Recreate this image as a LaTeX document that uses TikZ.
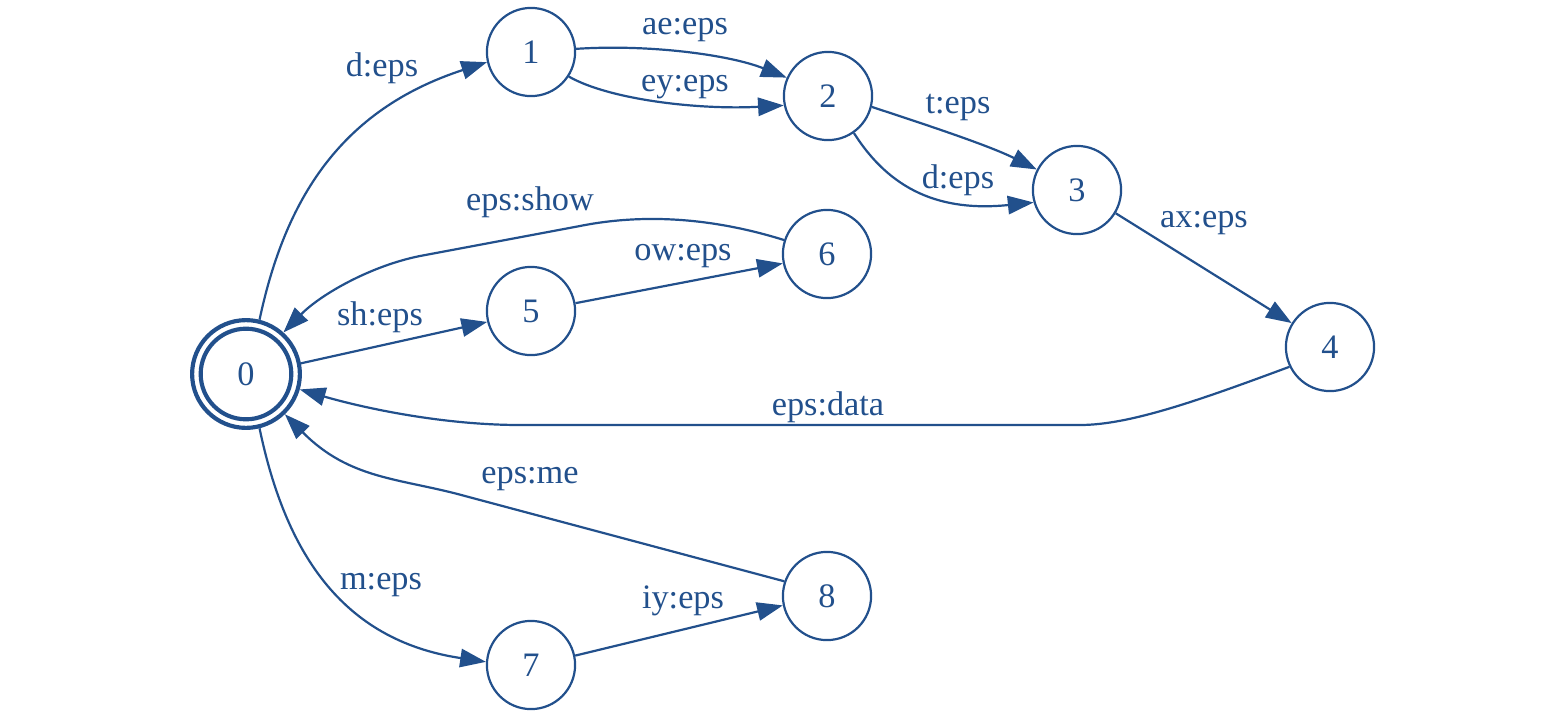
\documentclass[tikz,border=0pt]{standalone}
\usepackage{fontspec}
\setmainfont{Liberation Serif}
\usetikzlibrary{arrows.meta}
\definecolor{fstblue}{HTML}{22508C}
\begin{document}
\begin{tikzpicture}[x=0.4083pt,y=-0.4083pt,
  every node/.style={text=fstblue,font=\fontsize{14pt}{16pt}\selectfont},
  state/.style={circle,draw=fstblue,line width=0.9pt,minimum size=36pt,inner sep=0pt},
  final/.style={circle,draw=fstblue,line width=1.7pt,minimum size=44pt,inner sep=0pt},
  finalin/.style={circle,draw=fstblue,line width=1.7pt,minimum size=37pt,inner sep=0pt},
  arc/.style={draw=fstblue,line width=0.9pt,-{Triangle[length=10.5pt,width=7.5pt]}},
  lbl/.style={inner sep=0pt}]
\useasboundingbox (0,0) rectangle (1554,718);

% states
\node[final] (n0) at (246,374) {};
\node[finalin] (n0in) at (246,374) {0};
\node[state] (n1) at (531,52) {1};
\node[state] (n2) at (828,96) {2};
\node[state] (n3) at (1077,190) {3};
\node[state] (n4) at (1330,347) {4};
\node[state] (n5) at (531,311) {5};
\node[state] (n6) at (827,254) {6};
\node[state] (n7) at (531,665) {7};
\node[state] (n8) at (827,596) {8};

% transitions
\draw[arc] (n0.76) .. controls (285,200) and (340,110) .. (n1.193);
\draw[arc] (n1.4) .. controls (650,44) and (730,55) .. (n2.156);
\draw[arc] (n1.-33) .. controls (610,100) and (700,110) .. (n2.192);
\draw[arc] (n2.-14) .. controls (930,126) and (990,146) .. (n3.153);
\draw[arc] (n2.-55) .. controls (890,190) and (940,212) .. (n3.196);
\draw[arc] (n3.-31) -- (n4.148);
\draw[arc] (n4.206) .. controls (1200,400) and (1130,425) .. (1080,425)
  -- (520,425) .. controls (440,425) and (360,407) .. (n0.-16);
\draw[arc] (n0.11) -- (n5.194);
\draw[arc] (n5.10) -- (n6.192);
\draw[arc] (n6.162) .. controls (720,220) and (650,212) .. (580,226)
  -- (420,256) .. controls (370,266) and (320,295) .. (n0.48);
\draw[arc] (n0.-76) .. controls (285,550) and (340,640) .. (n7.176);
\draw[arc] (n7.12) -- (n8.192);
\draw[arc] (n8.161) -- (465,496) .. controls (400,478) and (350,480) .. (n0.-46);

% transition labels
\node[lbl] (l01) at (382,68) {d:eps};
\node[lbl] (l12a) at (685,30) {ae:eps};
\node[lbl] (l12b) at (685,87) {ey:eps};
\node[lbl] (l23a) at (958,107) {t:eps};
\node[lbl] (l23b) at (958,180) {d:eps};
\node[lbl] (l34) at (1204,223) {ax:eps};
\node[lbl] (l60) at (530,202) {eps:show};
\node[lbl] (l56) at (683,256) {ow:eps};
\node[lbl] (l05) at (380,317) {sh:eps};
\node[lbl] (l40) at (828,407) {eps:data};
\node[lbl] (l80) at (530,479) {eps:me};
\node[lbl] (l07) at (381,585) {m:eps};
\node[lbl] (l78) at (683,601) {iy:eps};
\end{tikzpicture}
\end{document}
